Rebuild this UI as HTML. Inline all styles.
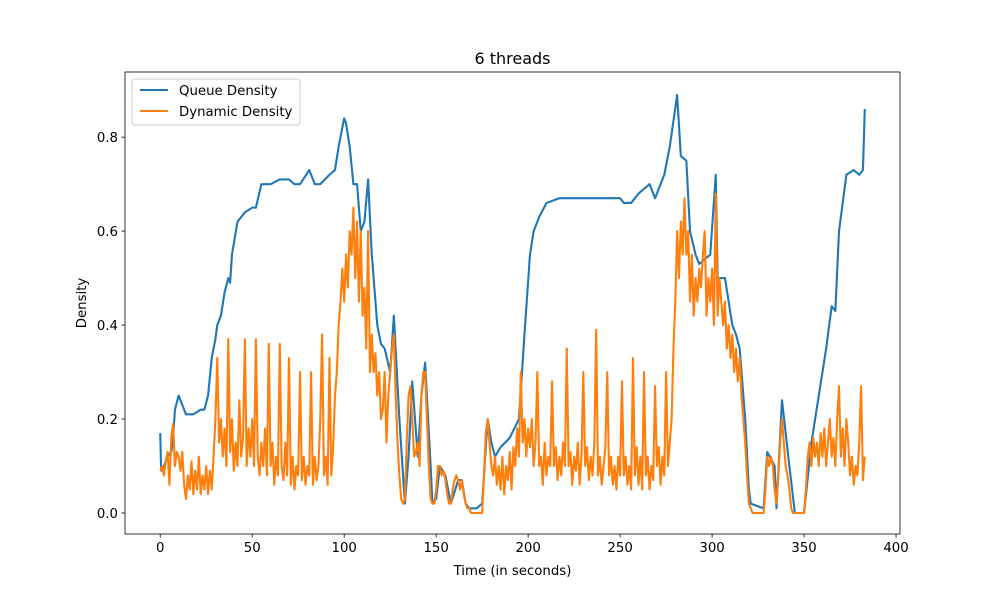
<!DOCTYPE html>
<html><head><meta charset="utf-8"><style>
body{margin:0;background:#fff;}
svg{display:block;font-family:"DejaVu Sans","Liberation Sans",sans-serif;}
</style></head><body>
<svg id="chart" width="1000" height="600" viewBox="0 0 1000 600" xmlns="http://www.w3.org/2000/svg">
<rect width="1000" height="600" fill="#fff"/>
<text x="512.5" y="64" font-size="16" text-anchor="middle">6 threads</text>
<g id="plot"></g>
<rect x="125" y="72" width="775" height="462" fill="none" stroke="#000" stroke-width="0.8"/>
<g id="xticks"></g><g id="yticks"></g>
<text x="512.5" y="575" font-size="13.3" text-anchor="middle">Time (in seconds)</text>
<text transform="translate(86,303) rotate(-90)" font-size="13.3" text-anchor="middle">Density</text>
<g>
<rect x="132" y="79" width="168" height="46" rx="3" fill="#fff" fill-opacity="0.8" stroke="#ccc" stroke-width="1"/>
<g><line x1="140" y1="90" x2="168" y2="90" stroke="#1f77b4" stroke-width="2.1"/><text x="179" y="95" font-size="13.3">Queue Density</text></g>
<g><line x1="140" y1="111" x2="168" y2="111" stroke="#ff7f0e" stroke-width="2.1"/><text x="179" y="116" font-size="13.3">Dynamic Density</text></g>
</g>
</svg>
<script>
const xTicks=[0,50,100,150,200,250,300,350,400];
const yTicks=[0.0,0.2,0.4,0.6,0.8];
const queueT=[0,0.5,2,4,6,7,8,10,12,14,18,22,24,26,28,30,31,33,35,37,38,39,42,46,50,52,55,60,65,70,73,76,81,84,87,92,95,97,100,101,103,105,107,109,111,113,115,118,120,122,125,127,130,133,135,137,140,142,144,147,148,150,152,155,158,162,164,166,168,172,175,178,180,182,185,190,195,198,201,203,206,210,217,230,240,250,252,256,260,266,269,274,277,281,283,286,288,291,293,296,299,302,303,307,311,313,315,318,320,321,328,330,334,335,338,342,345,350,354,358,362,365,367,369,373,377,380,382,383];
const queueV=[.17,.09,.1,.12,.13,.16,.22,.25,.23,.21,.21,.22,.22,.25,.33,.37,.4,.42,.47,.5,.49,.55,.62,.64,.65,.65,.7,.7,.71,.71,.7,.7,.73,.7,.7,.72,.73,.78,.84,.83,.78,.7,.7,.6,.62,.71,.55,.4,.36,.35,.3,.42,.2,.02,.12,.28,.12,.25,.32,.1,.02,.03,.1,.08,.02,.07,.07,.02,.01,.01,.02,.2,.15,.12,.14,.16,.2,.38,.55,.6,.63,.66,.67,.67,.67,.67,.66,.66,.68,.7,.67,.72,.78,.89,.76,.75,.6,.55,.53,.54,.55,.72,.5,.5,.4,.38,.35,.2,.05,.02,.01,.13,.1,.01,.24,.1,0,0,.15,.25,.35,.44,.43,.6,.72,.73,.72,.73,.86];
const dynamicV=[.09,.1,.08,.11,.13,.06,.16,.19,.1,.13,
.12,.09,.13,.06,.03,.08,.05,.11,.04,.09,
.05,.12,.04,.08,.05,.1,.04,.09,.05,.12,
.2,.33,.15,.2,.12,.18,.1,.37,.13,.2,
.09,.15,.1,.24,.12,.16,.37,.1,.18,.12,
.2,.1,.37,.12,.08,.15,.1,.18,.08,.36,
.1,.15,.06,.12,.08,.36,.1,.07,.15,.08,
.33,.06,.12,.05,.1,.08,.3,.07,.12,.06,
.1,.08,.3,.06,.12,.07,.1,.2,.38,.08,
.12,.06,.33,.08,.14,.25,.3,.4,.45,.52,
.45,.55,.48,.6,.55,.65,.5,.62,.45,.6,
.42,.48,.35,.6,.3,.38,.3,.34,.25,.3,
.2,.22,.3,.15,.25,.3,.35,.38,.25,.15,
.08,.03,.02,.03,.15,.25,.27,.2,.12,.13,
.15,.1,.25,.3,.3,.2,.1,.03,.02,.02,
.05,.1,.1,.08,.09,.07,.04,.02,.02,.05,
.07,.08,.07,.05,.07,.04,.02,.01,.01,0,
0,0,0,0,0,0,.08,.17,.2,.15,
.1,.08,.12,.06,.1,.05,.12,.04,.1,.07,
.13,.05,.14,.1,.18,.12,.3,.15,.2,.12,
.18,.14,.2,.1,.15,.3,.1,.12,.06,.15,
.08,.12,.1,.28,.1,.14,.07,.12,.08,.15,
.1,.35,.1,.13,.06,.12,.09,.15,.06,.12,
.3,.1,.14,.07,.12,.08,.15,.39,.08,.12,
.06,.1,.14,.3,.08,.12,.06,.1,.05,.12,
.08,.28,.08,.12,.06,.1,.05,.33,.08,.14,
.06,.12,.05,.3,.08,.12,.05,.1,.07,.27,
.1,.14,.06,.12,.08,.3,.1,.15,.2,.35,
.45,.6,.5,.62,.55,.67,.55,.6,.45,.55,
.42,.5,.45,.52,.48,.55,.6,.42,.5,.45,
.52,.4,.68,.42,.5,.45,.4,.45,.35,.4,
.33,.38,.3,.35,.28,.33,.25,.2,.15,.08,
.02,.01,0,0,0,0,0,0,0,.05,
.12,.1,.12,.1,.05,.02,.08,.15,.2,.15,
.1,.08,.05,.01,0,0,0,0,0,0,
0,.05,.12,.15,.1,.16,.12,.15,.1,.17,
.12,.18,.1,.15,.2,.12,.16,.1,.2,.27,
.12,.18,.1,.2,.15,.08,.12,.06,.1,.08,
.15,.27,.07,.12];

const X0=125,X1=900,Y0=534,Y1=72;
const xmin=-19.15,xmax=402.15,ymin=-0.0447,ymax=0.9387;
const xs=v=>X0+(v-xmin)/(xmax-xmin)*(X1-X0);
const ys=v=>Y0-(v-ymin)/(ymax-ymin)*(Y0-Y1);
const NS="http://www.w3.org/2000/svg";
const plot=document.getElementById('plot');
function mk(tag,attrs,parent){const e=document.createElementNS(NS,tag);for(const k in attrs)e.setAttribute(k,attrs[k]);parent.appendChild(e);return e;}

const qd=queueT.map((t,i)=>(i?'L':'M')+xs(t).toFixed(2)+','+ys(queueV[i]).toFixed(2)).join('');
const q=mk('path',{d:qd,fill:'none',stroke:'#1f77b4','stroke-width':2.1,'stroke-linejoin':'round'},plot);


const dd=dynamicV.map((v,i)=>(i?'L':'M')+xs(i).toFixed(2)+','+ys(v).toFixed(2)).join('');
const d=mk('path',{d:dd,fill:'none',stroke:'#ff7f0e','stroke-width':2.1,'stroke-linejoin':'round'},plot);



const xg=document.getElementById('xticks');
xTicks.forEach(t=>{
  const g=mk('g',{},xg);
  
  
  mk('line',{x1:xs(t),x2:xs(t),y1:Y0,y2:Y0+3.5,stroke:'#000','stroke-width':0.8},g);
  const tx=mk('text',{x:xs(t),y:Y0+18,'font-size':13.3,'text-anchor':'middle'},g);
  tx.textContent=String(t);
});
const yg=document.getElementById('yticks');
yTicks.forEach(t=>{
  const g=mk('g',{},yg);
  
  
  mk('line',{x1:X0-3.5,x2:X0,y1:ys(t),y2:ys(t),stroke:'#000','stroke-width':0.8},g);
  const tx=mk('text',{x:X0-7,y:ys(t)+5,'font-size':13.3,'text-anchor':'end'},g);
  tx.textContent=t.toFixed(1);
});
</script>
</body></html>
